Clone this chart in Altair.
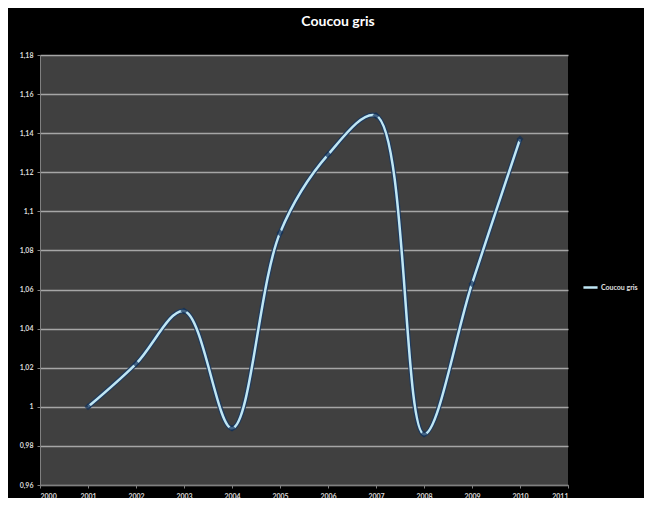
import altair as alt
import pandas as pd

years = [2001, 2002, 2003, 2004, 2005, 2006, 2007, 2008, 2009, 2010]
values = [1.000, 1.022, 1.049, 0.989, 1.089, 1.129, 1.149, 0.986, 1.063, 1.137]
series_name = "Coucou gris"
x_ticks = list(range(2000, 2012))
y_ticks = [0.96, 0.98, 1.0, 1.02, 1.04, 1.06, 1.08, 1.1, 1.12, 1.14, 1.16, 1.18]

df = pd.DataFrame({"year": years, "value": values, "series": [series_name] * len(years)})

x_enc = alt.X("year:Q",
              scale=alt.Scale(domain=[2000, 2011], nice=False, zero=False),
              axis=alt.Axis(values=x_ticks, format="d", title=None, grid=False,
                            labelColor="#d9d9d9", labelFontSize=7, labelFont="Lato",
                            labelFontWeight="bold", tickColor="#808080", tickSize=3,
                            domainColor="#808080", labelPadding=4))
y_enc = alt.Y("value:Q",
              scale=alt.Scale(domain=[0.96, 1.18], nice=False, zero=False),
              axis=alt.Axis(values=y_ticks, title=None, grid=True, gridColor="#a6a6a6",
                            gridWidth=1.5,
                            labelExpr="replace(format(datum.value, '.2~f'), '.', ',')",
                            labelColor="#d9d9d9", labelFontSize=7, labelFont="Lato",
                            labelFontWeight="bold", tickColor="#808080", tickSize=3,
                            domainColor="#808080", labelPadding=4))

base = alt.Chart(df)

shadow = base.mark_line(interpolate="catmull-rom", color="#1c3a5e", strokeWidth=5,
                        opacity=0.9).encode(x=x_enc, y=y_enc)
line = base.mark_line(interpolate="catmull-rom", strokeWidth=2.5).encode(
    x=x_enc, y=y_enc,
    color=alt.Color("series:N",
                    scale=alt.Scale(domain=[series_name], range=["#bfe6f4"]),
                    legend=alt.Legend(title=None, orient="none", legendX=542, legendY=224,
                                      labelColor="#e0e0e0", labelFontSize=7,
                                      labelFont="Lato", labelFontWeight="bold",
                                      symbolType="stroke", symbolStrokeWidth=2.5,
                                      symbolSize=200, labelOffset=2)))
points = base.mark_point(shape="diamond", filled=True, size=50, color="#0f2d55").encode(
    x=x_enc, y=y_enc)

chart = alt.layer(shadow, line, points).properties(
    width=528, height=430,
    background="#000000",
    padding={"left": 32, "top": 47, "right": 76, "bottom": 13},
    autosize=alt.AutoSizeParams(type="none"),
    title=alt.TitleParams(series_name, color="#ffffff", font="Lato", fontSize=14,
                          fontWeight="bold", anchor="middle", offset=22, dx=34),
).configure_view(fill="#404040", stroke=None)

chart.save("out.html", embed_options={"renderer": "svg", "actions": False})
